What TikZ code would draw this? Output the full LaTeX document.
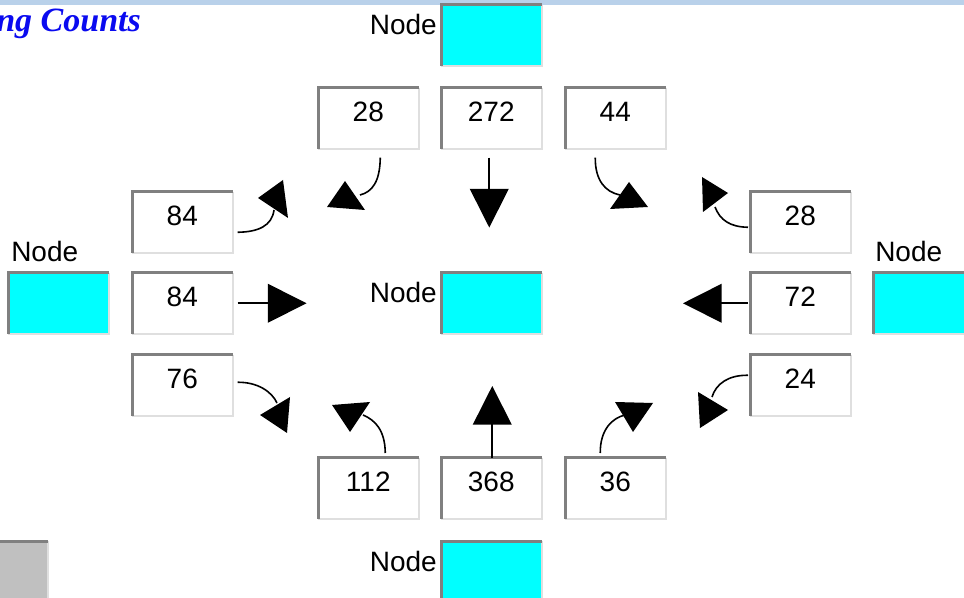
\documentclass[tikz,border=0pt]{standalone}
\usepackage{fontspec}
\setmainfont{Liberation Sans}
\newfontfamily\titlefont{Liberation Serif}
\usetikzlibrary{calc,arrows.meta}
\definecolor{barc}{RGB}{185,209,234}
\definecolor{dkc}{RGB}{128,128,128}
\definecolor{ltc}{RGB}{223,223,223}
\definecolor{cyc}{RGB}{0,255,255}
\definecolor{grc}{RGB}{192,192,192}
\definecolor{titc}{RGB}{10,10,240}
\newcommand\mybevel[1]{%
  \draw[ltc, line width=1.5pt] (#1.north east) -- (#1.south east) -- (#1.south west);
  \draw[dkc, line width=2.25pt] (#1.south west) -- (#1.north west) -- (#1.north east);}
\begin{document}
\begin{tikzpicture}[x=0.75pt,y=-0.75pt,
  cnt/.style={fill=white, minimum width=75pt, minimum height=45pt, inner sep=0pt,
    font=\fontsize{21pt}{21pt}\selectfont, text height=15pt, text depth=9.75pt, anchor=north west},
  cyn/.style={fill=cyc, minimum width=75pt, minimum height=45pt, inner sep=0pt, anchor=north west},
  lbl/.style={font=\fontsize{21pt}{21pt}\selectfont, inner sep=0pt},
  conn/.style={line width=1.2pt},
  sarrow/.style={conn, -{Triangle[length=29pt, width=29pt]}},
  head/.style={fill=black}
]
\useasboundingbox (0,0) rectangle (964,598);
\clip (0,0) rectangle (964,598);
\fill[white] (0,0) rectangle (964,598);
\fill[barc] (0,0) rectangle (964,5);

% title
\node[anchor=base west, inner sep=0pt, text=titc,
  font=\titlefont\bfseries\itshape\fontsize{25.5pt}{25.5pt}\selectfont] (title) at (-4,32) {ng Counts};

% cyan nodes
\node[cyn] (nt) at (441,5) {};
\node[cyn] (nc) at (441,273) {};
\node[cyn] (nl) at (8,273) {};
\node[cyn] (nr) at (873,273) {};
\node[cyn] (nb) at (441,541) {};
\node[fill=grc, minimum width=75pt, minimum height=45pt, inner sep=0pt, anchor=north west] (gb) at (-53,541) {};
\foreach \n in {nt,nc,nl,nr,nb,gb} {\mybevel{\n}}

% labels
\node[lbl, anchor=base east] (lbt) at ($(nt.north west)+(-4,30)$) {Node};
\node[lbl, anchor=base east] (lbc) at ($(nc.north west)+(-4,30)$) {Node};
\node[lbl, anchor=base east] (lbb) at ($(nb.north west)+(-4,30)$) {Node};
\node[lbl, anchor=base west] (lbl) at ($(nl.north west)+(3,-11)$) {Node};
\node[lbl, anchor=base west] (lbr) at ($(nr.north west)+(2,-11)$) {Node};

% count boxes
\node[cnt] (t1) at (318,88) {28};
\node[cnt] (t2) at (441,88) {272};
\node[cnt] (t3) at (565,88) {44};
\node[cnt] (l1) at (132,192) {84};
\node[cnt] (l2) at (132,273) {84};
\node[cnt] (l3) at (132,355) {76};
\node[cnt] (r1) at (750,192) {28};
\node[cnt] (r2) at (750,273) {72};
\node[cnt] (r3) at (750,355) {24};
\node[cnt] (b1) at (318,458) {112};
\node[cnt] (b2) at (441,458) {368};
\node[cnt] (b3) at (565,458) {36};
\foreach \n in {t1,t2,t3,l1,l2,l3,r1,r2,r3,b1,b2,b3} {\mybevel{\n}}

% straight arrows
\coordinate (a272) at ($(t2.south)+(-2,79)$);
\coordinate (a368) at ($(b2.north)+(1,-72)$);
\coordinate (a84) at ($(l2.east)+(74,0)$);
\coordinate (a72) at ($(r2.west)+(-67,0)$);
\draw[sarrow, shorten <=6.75pt] ($(t2.south)+(-2,0)$) -- (a272);
\draw[sarrow] ($(b2.north)+(1,0)$) -- (a368);
\draw[sarrow, shorten <=3.75pt] (l2.east) -- (a84);
\draw[sarrow, shorten <=1.5pt] (r2.west) -- (a72);

% curved arrows
\coordinate (sA) at ($(l1.east)+(5,10)$);   \coordinate (eA) at (274,210);
\coordinate (sB) at ($(t1.south)+(12,9)$);  \coordinate (eB) at (360,195);
\coordinate (sC) at ($(t3.south)+(-20,9)$); \coordinate (eC) at (620,195);
\coordinate (sD) at ($(r1.west)+(-2,5)$);   \coordinate (eD) at (715,207);
\coordinate (sE) at ($(l3.east)+(5,-3)$);   \coordinate (eE) at (277,403);
\coordinate (sF) at ($(b1.north)+(17,-5)$); \coordinate (eF) at (363,415);
\coordinate (sG) at ($(b3.north)+(-15,-5)$);\coordinate (eG) at (625,415);
\coordinate (sH) at ($(r3.west)+(-2,-10)$); \coordinate (eH) at (712,397);

\draw[conn] (sA) .. controls (258,232) and (272,226) .. (eA);
\draw[conn] (sB) .. controls (380,182) and (372,192) .. (eB);
\draw[conn] (sC) .. controls (595,180) and (605,192) .. (eC);
\draw[conn] (sD) .. controls (730,227) and (720,220) .. (eD);
\draw[conn] (sE) .. controls (258,382) and (272,392) .. (eE);
\draw[conn] (sF) .. controls (385,430) and (375,420) .. (eF);
\draw[conn] (sG) .. controls (600,430) and (612,418) .. (eG);
\draw[conn] (sH) .. controls (728,375) and (716,384) .. (eH);

\fill[head] (258,198) -- (283,180) -- (288,218) -- cycle;
\fill[head] (327,207) -- (345,181) -- (365,210) -- cycle;
\fill[head] (610,209) -- (629,182) -- (648,207) -- cycle;
\fill[head] (702,177) -- (728,193) -- (703,212) -- cycle;
\fill[head] (260,415) -- (290,397) -- (287,433) -- cycle;
\fill[head] (332,405) -- (370,402) -- (350,432) -- cycle;
\fill[head] (615,402) -- (653,403) -- (633,432) -- cycle;
\fill[head] (698,392) -- (728,410) -- (700,428) -- cycle;
\end{tikzpicture}
\end{document}
